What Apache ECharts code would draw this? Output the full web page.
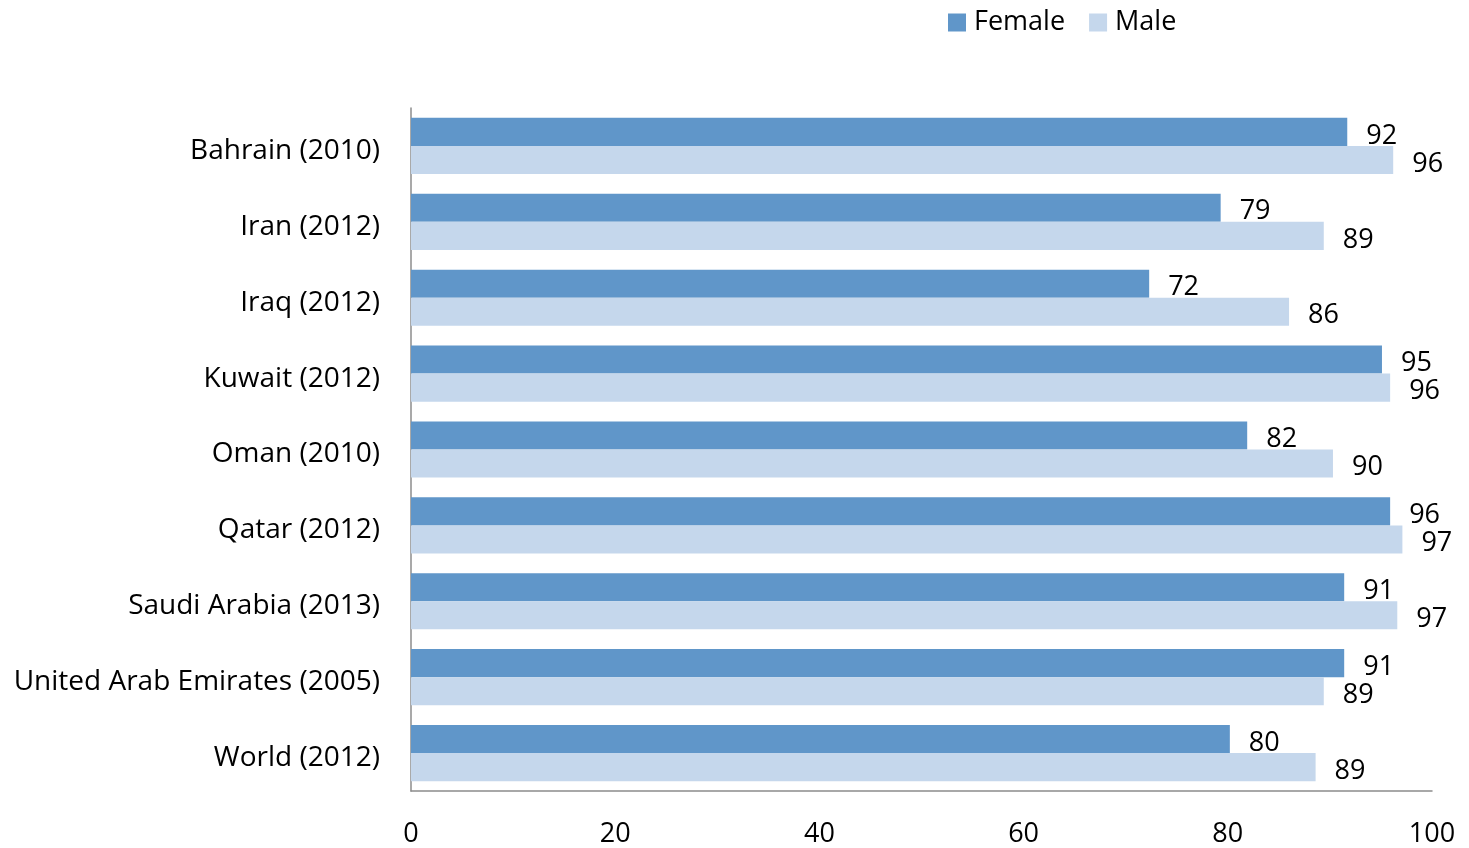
<!DOCTYPE html>
<html>
<head>
<meta charset="utf-8">
<script src="https://cdn.jsdelivr.net/npm/echarts@6/dist/echarts.min.js"></script>
<style>html,body{margin:0;padding:0;background:#fff}#c{width:1469px;height:848px}</style>
</head>
<body>
<div id="c"></div>
<script>
var categories = ["Bahrain (2010)", "Iran (2012)", "Iraq (2012)", "Kuwait (2012)", "Oman (2010)", "Qatar (2012)", "Saudi Arabia (2013)", "United Arab Emirates (2005)", "World (2012)"];
var female = [91.7, 79.3, 72.3, 95.1, 81.9, 95.9, 91.4, 91.4, 80.2];
var male = [96.2, 89.4, 86.0, 95.9, 90.3, 97.1, 96.6, 89.4, 88.6];
var xTicks = [0, 20, 40, 60, 80, 100];

var FONT = "Open Sans";
var chart = echarts.init(document.getElementById('c'), null, {renderer: 'canvas'});
var lbl = {
  show: true, position: 'right', distance: 19, color: '#000',
  fontFamily: FONT, fontSize: 27, offset: [0, 4],
  formatter: function (p) { return Math.round(p.value); }
};
chart.setOption({
  animation: false,
  textStyle: {fontFamily: FONT},
  legend: {
    left: 943, top: 4, itemWidth: 18, itemHeight: 18, itemGap: 24,
    icon: 'rect',
    textStyle: {fontFamily: FONT, fontSize: 27, color: '#000', padding: [0, 0, 0, 3]},
    data: ['Female', 'Male']
  },
  grid: {left: 411, right: 37, top: 108, bottom: 53, containLabel: false},
  xAxis: {
    type: 'value', min: xTicks[0], max: xTicks[xTicks.length - 1], interval: 20,
    axisLine: {show: true, lineStyle: {color: '#8c8c8c', width: 1.5}},
    axisTick: {show: false},
    splitLine: {show: false},
    axisLabel: {color: '#000', fontFamily: FONT, fontSize: 27, margin: 30,
      formatter: function (v) { return xTicks.indexOf(v) >= 0 ? String(v) : ''; }}
  },
  yAxis: {
    type: 'category', data: categories, inverse: true,
    axisLine: {show: true, lineStyle: {color: '#8c8c8c', width: 1.5}},
    axisTick: {show: false},
    axisLabel: {color: '#000', fontFamily: FONT, fontSize: 28, margin: 31,
      formatter: function (v) { return '{a|' + v + '}'; },
      rich: {a: {fontFamily: FONT, fontSize: 28, color: '#000', padding: [10, 0, 0, 0]}}}
  },
  series: [
    {name: 'Female', type: 'bar', data: female, barGap: '0%', barCategoryGap: '26%',
     itemStyle: {color: '#6096C9'}, label: lbl},
    {name: 'Male', type: 'bar', data: male, barGap: '0%', barCategoryGap: '26%',
     itemStyle: {color: '#C5D7EC'}, label: lbl}
  ]
});
</script>
</body>
</html>
